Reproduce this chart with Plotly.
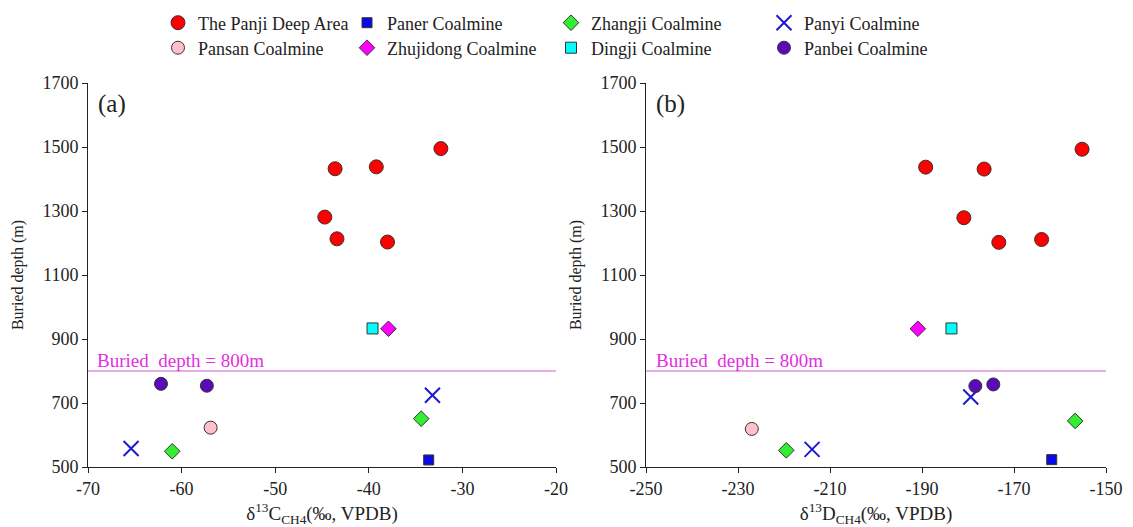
import plotly.graph_objects as go

# ---------------- data ----------------
series_names = ["The Panji Deep Area", "Paner Coalmine", "Zhangji Coalmine", "Panyi Coalmine",
                "Pansan Coalmine", "Zhujidong Coalmine", "Dingji Coalmine", "Panbei Coalmine"]

# panel (a): d13C CH4
panji_c = [-32.3, -43.6, -39.2, -44.7, -43.4, -38.0]
panji_depth_a = [1495, 1432, 1438, 1281, 1213, 1203]
paner_c = [-33.6]
paner_depth_a = [522]
zhangji_c = [-61.0, -34.4]
zhangji_depth_a = [549, 651]
panyi_c = [-65.4, -33.2]
panyi_depth_a = [558, 724]
pansan_c = [-56.9]
pansan_depth_a = [623]
zhujidong_c = [-37.9]
zhujidong_depth_a = [932]
dingji_c = [-39.6]
dingji_depth_a = [933]
panbei_c = [-62.2, -57.3]
panbei_depth_a = [760, 754]

# panel (b): dD CH4
panji_d = [-155.2, -189.2, -176.5, -180.9, -173.3, -164.0]
panji_depth_b = [1493, 1437, 1431, 1279, 1202, 1211]
paner_d = [-161.8]
paner_depth_b = [523]
zhangji_d = [-219.5, -156.7]
zhangji_depth_b = [552, 644]
panyi_d = [-213.9, -179.4]
panyi_depth_b = [555, 719]
pansan_d = [-227.0]
pansan_depth_b = [619]
zhujidong_d = [-190.9]
zhujidong_depth_b = [932]
dingji_d = [-183.6]
dingji_depth_b = [933]
panbei_d = [-178.4, -174.5]
panbei_depth_b = [753, 758]

threshold_depth = 800

xa_ticks = [-70, -60, -50, -40, -30, -20]
xa_ticktext = ["-70", "-60", "-50", "-40", "-30", "-20"]
xb_ticks = [-250, -230, -210, -190, -170, -150]
xb_ticktext = ["-250", "-230", "-210", "-190", "-170", "-150"]
y_ticks = [500, 700, 900, 1100, 1300, 1500, 1700]

# ---------------- styles ----------------
FONT = "Liberation Serif"
TXT = "#222222"
edge = dict(color="#333333", width=1)
styles = {
    "The Panji Deep Area": dict(symbol="circle", size=14, color="#ff0000", line=edge),
    "Paner Coalmine": dict(symbol="square", size=10, color="#0a0ae6", line=edge),
    "Zhangji Coalmine": dict(symbol="diamond", size=12, color="#33ee33", line=edge),
    "Panyi Coalmine": dict(symbol="x-thin", size=15, color="#1a1ad0", line=dict(color="#1a1ad0", width=2)),
    "Pansan Coalmine": dict(symbol="circle", size=13, color="#ffc0cb", line=edge),
    "Zhujidong Coalmine": dict(symbol="diamond", size=12, color="#ff00ff", line=edge),
    "Dingji Coalmine": dict(symbol="square", size=11, color="#00ffff", line=edge),
    "Panbei Coalmine": dict(symbol="circle", size=13, color="#5a0ab8", line=edge),
}

data_a = {
    "The Panji Deep Area": (panji_c, panji_depth_a),
    "Paner Coalmine": (paner_c, paner_depth_a),
    "Zhangji Coalmine": (zhangji_c, zhangji_depth_a),
    "Panyi Coalmine": (panyi_c, panyi_depth_a),
    "Pansan Coalmine": (pansan_c, pansan_depth_a),
    "Zhujidong Coalmine": (zhujidong_c, zhujidong_depth_a),
    "Dingji Coalmine": (dingji_c, dingji_depth_a),
    "Panbei Coalmine": (panbei_c, panbei_depth_a),
}
data_b = {
    "The Panji Deep Area": (panji_d, panji_depth_b),
    "Paner Coalmine": (paner_d, paner_depth_b),
    "Zhangji Coalmine": (zhangji_d, zhangji_depth_b),
    "Panyi Coalmine": (panyi_d, panyi_depth_b),
    "Pansan Coalmine": (pansan_d, pansan_depth_b),
    "Zhujidong Coalmine": (zhujidong_d, zhujidong_depth_b),
    "Dingji Coalmine": (dingji_d, dingji_depth_b),
    "Panbei Coalmine": (panbei_d, panbei_depth_b),
}

# The page body has an 8px margin, so the figure is drawn 8px right/down.
OFF = 8
W, H = 1133 - OFF, 527 - OFF
# screen-pixel targets of plot area
SL, SR, ST, SB = 88, 1106, 83, 467
ml, mr, mt, mb = SL - OFF, W - (SR - OFF), ST - OFF, H - (SB - OFF)
pw = W - ml - mr
ph = H - mt - mb


def px2x(p):  # screen px -> paper x
    return (p - SL) / pw


def py2y(p):  # screen px -> paper y
    return (SB - p) / ph


# legend slot positions (screen pixels of marker centre) : 4 columns x 2 rows
legend_cols_px = [179, 368, 572, 785]
legend_rows_px = [23, 48]

fig = go.Figure()
legend_layouts = {}
for i, name in enumerate(series_names):
    st = styles[name]
    legend_id = "legend" if i == 0 else f"legend{i + 1}"
    xa, ya = data_a[name]
    fig.add_trace(go.Scatter(x=xa, y=ya, mode="markers", name=name, marker=st,
                             xaxis="x", yaxis="y", legend=legend_id, legendgroup=name,
                             showlegend=True))
    xb, yb = data_b[name]
    fig.add_trace(go.Scatter(x=xb, y=yb, mode="markers", name=name, marker=st,
                             xaxis="x2", yaxis="y2", legend=legend_id, legendgroup=name,
                             showlegend=False))
    cx = legend_cols_px[i % 4]
    cy = legend_rows_px[i // 4]
    legend_layouts[legend_id] = dict(
        xref="container", yref="container",
        x=(cx - OFF - 21) / W, y=1 - (cy - OFF) / H, xanchor="left", yanchor="middle",
        orientation="h", font=dict(family=FONT, size=18, color=TXT),
        bgcolor="rgba(0,0,0,0)", itemsizing="trace", tracegroupgap=0,
    )

# threshold lines
line_col = "#d659d6"
fig.add_trace(go.Scatter(x=[xa_ticks[0], xa_ticks[-1]], y=[threshold_depth, threshold_depth],
                         mode="lines", line=dict(color=line_col, width=1.2),
                         xaxis="x", yaxis="y", showlegend=False, hoverinfo="skip"))
fig.add_trace(go.Scatter(x=[xb_ticks[0], xb_ticks[-1]], y=[threshold_depth, threshold_depth],
                         mode="lines", line=dict(color=line_col, width=1.2),
                         xaxis="x2", yaxis="y2", showlegend=False, hoverinfo="skip"))

axis_common = dict(showline=True, linecolor=TXT, linewidth=1, ticks="outside",
                   ticklen=5, tickcolor=TXT, showgrid=False, zeroline=False,
                   mirror=False, tickfont=dict(family=FONT, size=18, color=TXT))

fig.update_layout(
    width=W, height=H,
    margin=dict(l=ml, r=mr, t=mt, b=mb, autoexpand=False),
    paper_bgcolor="white", plot_bgcolor="white",
    font=dict(family=FONT, size=18, color=TXT),
    xaxis=dict(domain=[0, px2x(556)], range=[xa_ticks[0], xa_ticks[-1]], tickvals=xa_ticks,
               ticktext=xa_ticktext, anchor="y",
               title=dict(text="δ<sup>13</sup>C<sub>CH4</sub>(‰, VPDB)", font=dict(family=FONT, size=19),
                          standoff=14),
               **axis_common),
    yaxis=dict(domain=[0, 1], range=[500, 1700], tickvals=y_ticks, anchor="x",
               title=dict(text="Buried depth (m)", font=dict(family=FONT, size=16), standoff=14),
               **axis_common),
    xaxis2=dict(domain=[px2x(646), 1], range=[xb_ticks[0], xb_ticks[-1]], tickvals=xb_ticks,
                ticktext=xb_ticktext, anchor="y2",
                title=dict(text="δ<sup>13</sup>D<sub>CH4</sub>(‰, VPDB)", font=dict(family=FONT, size=19),
                           standoff=14),
                **axis_common),
    yaxis2=dict(domain=[0, 1], range=[500, 1700], tickvals=y_ticks, anchor="x2",
                title=dict(text="Buried depth (m)", font=dict(family=FONT, size=16), standoff=14),
                **axis_common),
    showlegend=True,
    annotations=[
        dict(text="(a)", x=px2x(96), y=py2y(104), xref="paper", yref="paper", xanchor="left",
             yanchor="middle", showarrow=False, font=dict(family=FONT, size=25, color=TXT)),
        dict(text="(b)", x=px2x(654), y=py2y(104), xref="paper", yref="paper", xanchor="left",
             yanchor="middle", showarrow=False, font=dict(family=FONT, size=25, color=TXT)),
        dict(text="Buried  depth = 800m", x=xa_ticks[0] + 0.8, y=threshold_depth, xref="x", yref="y",
             xanchor="left", yanchor="bottom", showarrow=False, yshift=-2,
             font=dict(family=FONT, size=19, color="#e030e0")),
        dict(text="Buried  depth = 800m", x=xb_ticks[0] + 1.8, y=threshold_depth, xref="x2", yref="y2",
             xanchor="left", yanchor="bottom", showarrow=False, yshift=-2,
             font=dict(family=FONT, size=19, color="#e030e0")),
    ],
)
fig.update_layout(**legend_layouts)

fig.write_html("out.html")
